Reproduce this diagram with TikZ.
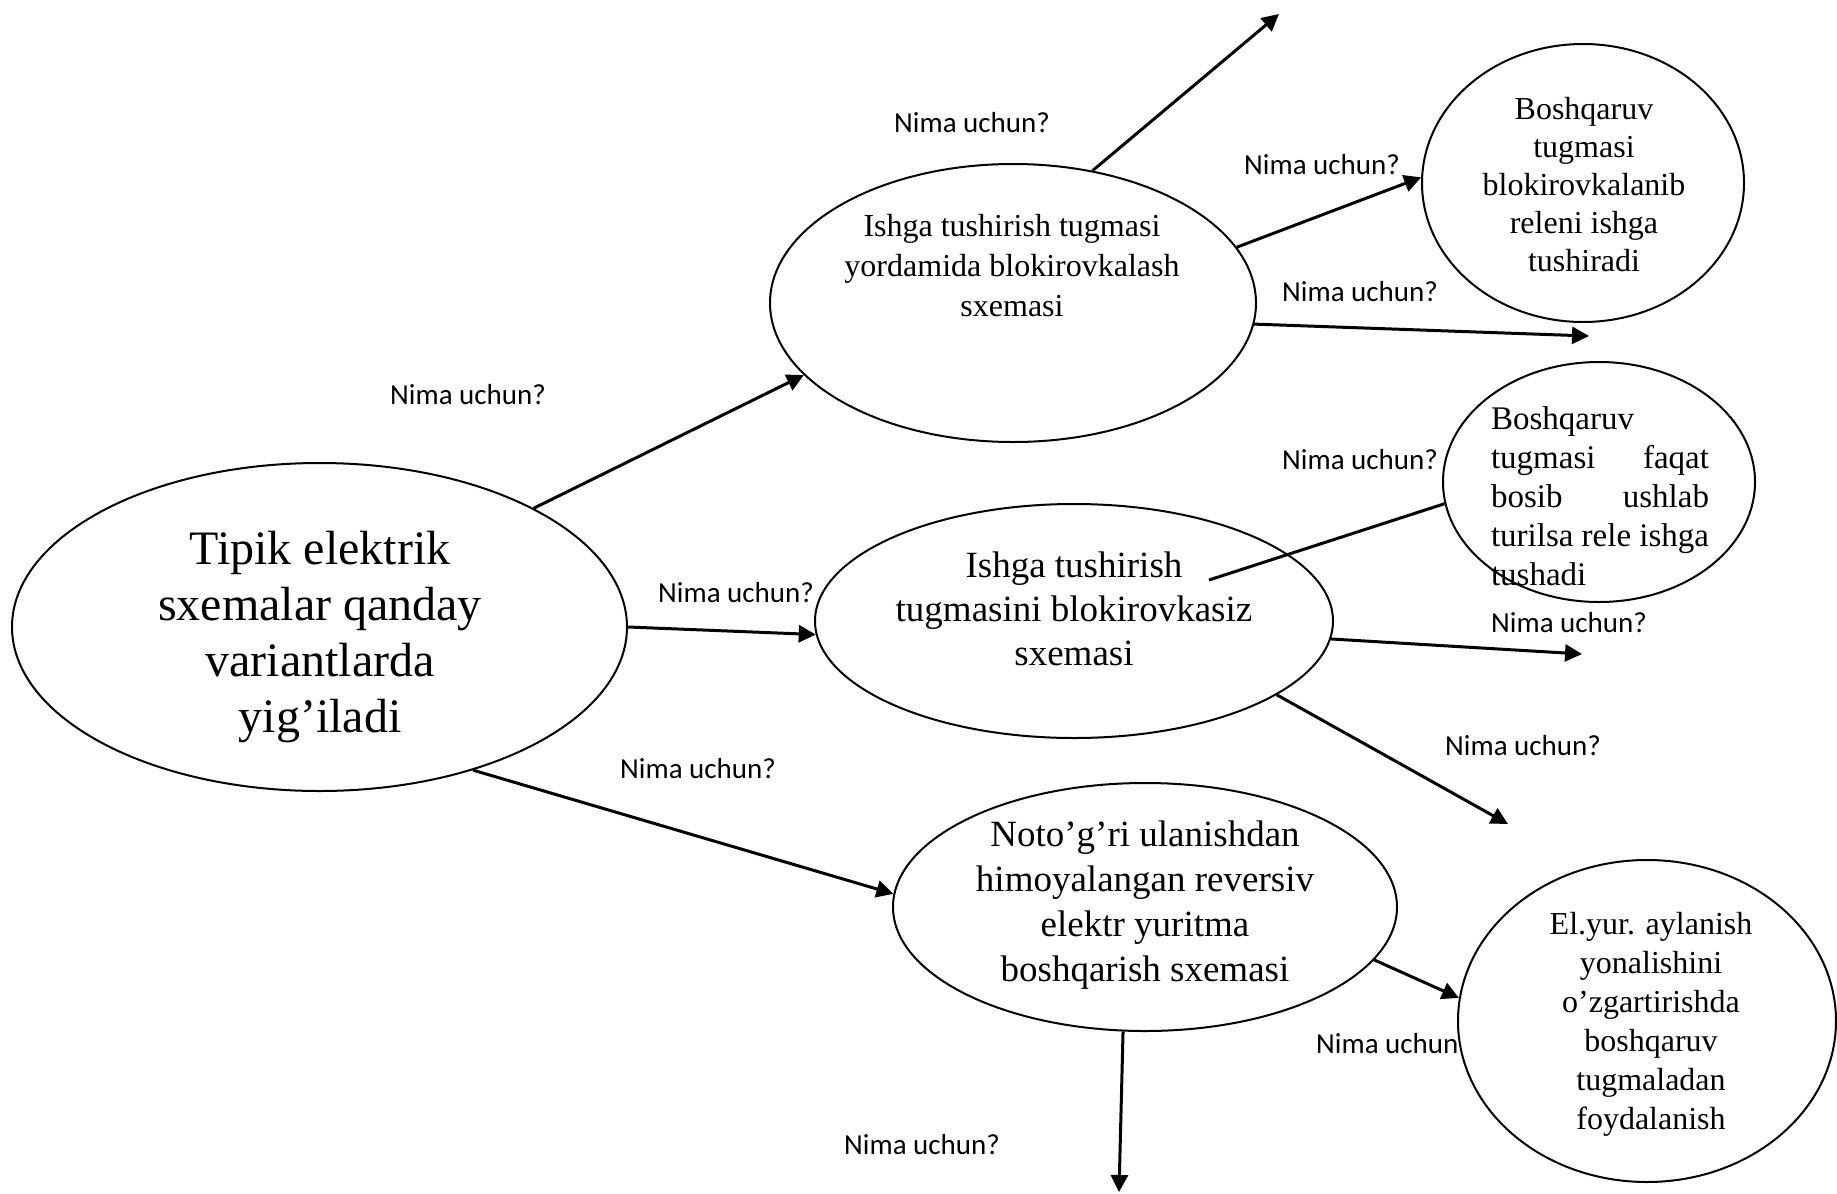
\documentclass[tikz,border=0pt]{standalone}
\usepackage{fontspec}
\setmainfont{Liberation Serif}
\newfontfamily\lblfont{Carlito}
\usetikzlibrary{shapes.geometric,arrows.meta}
\begin{document}
\begin{tikzpicture}[x=1pt,y=-1pt,
  ell/.style={draw, ellipse, line width=2pt, inner sep=0pt},
  conn/.style={line width=3pt, -{Triangle[length=17pt,width=17pt]}},
  ln/.style={line width=3pt},
  lbl/.style={font=\lblfont\fontsize{29}{34}\selectfont, anchor=west, inner sep=0pt},
  txt/.style={align=center, inner sep=0pt}]
\useasboundingbox (0,0) rectangle (1837,1194);
% ellipses
\node[ell, minimum width=615pt, minimum height=328pt] (m) at (319.5,627) {};
\node[ell, minimum width=486pt, minimum height=278pt] (e2) at (1013,303) {};
\node[ell, minimum width=518pt, minimum height=234pt] (e3) at (1074,621) {};
\node[ell, minimum width=504pt, minimum height=248pt] (e4) at (1145,907) {};
\node[ell, minimum width=322pt, minimum height=278pt] (e5) at (1583,183) {};
\node[ell, minimum width=312pt, minimum height=240pt] (e6) at (1599,482) {};
\node[ell, minimum width=378pt, minimum height=322pt] (e7) at (1647,1021) {};
% texts
\node[txt, font=\fontsize{48}{56}\selectfont] (tm) at (320,637) {Tipik elektrik\\sxemalar qanday\\variantlarda\\yig’iladi};
\node[txt, font=\fontsize{32}{40}\selectfont] (t2) at (1012,266) {Ishga tushirish tugmasi\\yordamida blokirovkalash\\sxemasi};
\node[txt, font=\fontsize{37}{44}\selectfont] (t3) at (1074,609) {Ishga tushirish\\tugmasini blokirovkasiz\\sxemasi};
\node[txt, font=\fontsize{37}{45}\selectfont] (t4) at (1145,905) {Noto’g’ri ulanishdan\\himoyalangan reversiv\\elektr yuritma\\boshqarish sxemasi};
\node[txt, font=\fontsize{32}{38}\selectfont] (t5) at (1584,185) {Boshqaruv\\tugmasi\\blokirovkalanib\\releni ishga\\tushiradi};
\node[txt, align=left, font=\fontsize{33}{39}\selectfont] (t6) at (1600,496) {Boshqaruv\\\makebox[218pt][s]{tugmasi faqat}\\\makebox[218pt][s]{bosib ushlab}\\\makebox[218pt][s]{turilsa rele ishga}\\tushadi};
\node[txt, font=\fontsize{32}{39}\selectfont] (t7) at (1651,1024) {El.yur. aylanish\\yonalishini\\o’zgartirishda\\boshqaruv\\tugmaladan\\foydalanish};
% labels
\node[lbl] (l1) at (894,123) {Nima uchun?};
\node[lbl] (l2) at (1244,165) {Nima uchun?};
\node[lbl] (l3) at (1282,292) {Nima uchun?};
\node[lbl] (l4) at (390,395) {Nima uchun?};
\node[lbl] (l5) at (1282,460) {Nima uchun?};
\node[lbl] (l6) at (658,593) {Nima uchun?};
\node[lbl] (l7) at (1491,623) {Nima uchun?};
\node[lbl] (l8) at (1445,746) {Nima uchun?};
\node[lbl] (l9) at (620,769) {Nima uchun?};
\node[lbl] (l10) at (1316,1044) {Nima uchun};
\node[lbl] (l11) at (844,1145) {Nima uchun?};
% free ends
\coordinate (f4) at (1279,14);
\coordinate (f6) at (1589,336);
\coordinate (s7) at (1209,580);
\coordinate (f8) at (1582,654);
\coordinate (f9) at (1508,824);
\coordinate (f11) at (1119,1192);
% connectors
\draw[conn] (m.29) -- (e2.199);
\draw[conn] (m.0) -- (e3.183);
\draw[conn] (m.-43) -- (e4.177);
\draw[conn] (e2.59) -- (f4);
\draw[conn] (e2.14) -- (e5.178);
\draw[conn] (e2.-5) -- (f6);
\draw[ln] (s7) -- (e6.188);
\draw[conn] (e3.-4) -- (f8);
\draw[conn] (e3.-20) -- (f9);
\draw[conn] (e4.-13) -- (e7.173);
\draw[conn] (e4.260) -- (f11);
\end{tikzpicture}
\end{document}
